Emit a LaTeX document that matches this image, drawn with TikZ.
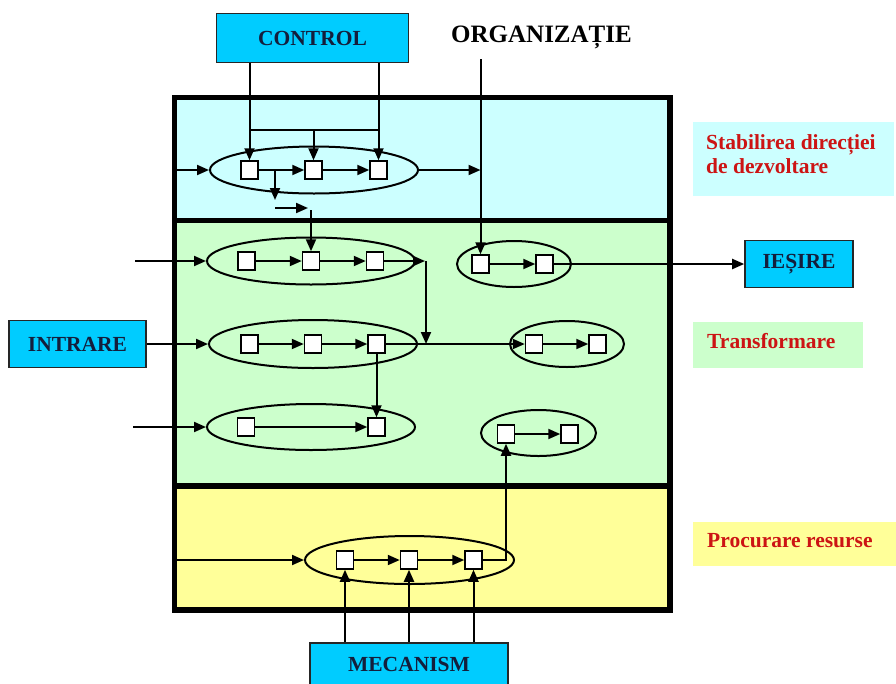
\documentclass[tikz,border=0pt]{standalone}
\usepackage{fontspec}
\setmainfont{Liberation Serif}
\usetikzlibrary{arrows.meta,shapes.geometric}

\definecolor{bandcyan}{RGB}{204,255,255}
\definecolor{bandgreen}{RGB}{204,255,204}
\definecolor{bandyellow}{RGB}{255,255,153}
\definecolor{termblue}{RGB}{0,204,255}
\definecolor{termtext}{RGB}{20,30,60}
\definecolor{labelred}{RGB}{204,20,20}

\begin{document}
\begin{tikzpicture}[x=1pt,y=-1pt,
  term/.style={draw=black!85, line width=1.6pt, fill=termblue, text=termtext,
    font=\fontsize{21.5}{24}\selectfont\bfseries, inner sep=0pt},
  act/.style={draw, fill=white, line width=1.5pt, minimum width=17pt,
    minimum height=18pt, inner sep=0pt},
  grp/.style={ellipse, draw, line width=2pt, inner sep=0pt},
  flow/.style={line width=2pt, -{Triangle[length=12pt,width=10pt]}},
  plain/.style={line width=2pt},
  phasebg/.style={inner sep=0pt, anchor=north west},
  phasetext/.style={text=labelred, font=\fontsize{21.5}{24}\selectfont\bfseries,
    align=left, anchor=west, inner sep=0pt},
  band/.style={line width=5.5pt}
]
\useasboundingbox (0,0) rectangle (896,683);

% ---- bands of the enterprise frame
\fill[bandcyan]   (174.5,97.5) rectangle (670,220.5);
\fill[bandgreen]  (174.5,220.5) rectangle (670,486);
\fill[bandyellow] (174.5,486) rectangle (670,610);
\draw[band] (174.5,97.5) rectangle (670,610);
\draw[band] (174.5,220.5) -- (670,220.5);
\draw[band] (174.5,486) -- (670,486);

% ---- phase labels on the right
\node[phasebg, fill=bandcyan, minimum width=201pt, minimum height=74pt] (stabbg) at (693,122) {};
\node[phasetext] (stab) at (706,154) {Stabilirea direcției\\de dezvoltare};
\node[phasebg, fill=bandgreen, minimum width=170pt, minimum height=46pt] (transbg) at (693,322) {};
\node[phasetext] (trans) at (707,341) {Transformare};
\node[phasebg, fill=bandyellow, minimum width=203pt, minimum height=44pt] (procbg) at (693,522) {};
\node[phasetext] (proc) at (707,541) {Procurare resurse};

% ---- terminals
\node[term, minimum width=192pt, minimum height=49pt] (ctrl) at (312.5,38) {CONTROL};
\node[term, minimum width=137pt, minimum height=47pt] (intr) at (77.5,344) {INTRARE};
\node[term, minimum width=108pt, minimum height=47pt] (iesire) at (799,264) {IEȘIRE};
\node[term, minimum width=198pt, minimum height=42pt] (mec) at (409,664) {MECANISM};
\node[font=\fontsize{25}{28}\selectfont\bfseries, inner sep=0pt] (org) at (541.5,37) {ORGANIZAȚIE};

% ---- process groups
\node[grp, minimum width=208pt, minimum height=47pt] (e1) at (314,170) {};
\node[grp, minimum width=208pt, minimum height=47pt] (e2) at (311,261) {};
\node[grp, minimum width=208pt, minimum height=48pt] (e3) at (313,344) {};
\node[grp, minimum width=208pt, minimum height=46pt] (e4) at (311,427) {};
\node[grp, minimum width=114pt, minimum height=46pt] (e5) at (514,264) {};
\node[grp, minimum width=114pt, minimum height=46pt] (e6) at (567,344) {};
\node[grp, minimum width=115pt, minimum height=46pt] (e7) at (538.5,433) {};
\node[grp, minimum width=209pt, minimum height=48pt] (e8) at (409.5,560) {};

% ---- activities
\node[act] (t1) at (249.5,170) {};
\node[act] (t2) at (313.5,170) {};
\node[act] (t3) at (378.5,170) {};
\node[act] (g1) at (246.5,261) {};
\node[act] (g2) at (311,261) {};
\node[act] (g3) at (375,261) {};
\node[act] (h1) at (249.5,344) {};
\node[act] (h2) at (313,344) {};
\node[act] (h3) at (376.5,344) {};
\node[act] (k1) at (246,427) {};
\node[act] (k2) at (376.5,427) {};
\node[act] (o1) at (480.5,264) {};
\node[act] (o2) at (544.5,264) {};
\node[act] (p1) at (534,344) {};
\node[act] (p2) at (597.5,344) {};
\node[act] (q1) at (506,434) {};
\node[act] (q2) at (569.5,434) {};
\node[act] (m1) at (345,560) {};
\node[act] (m2) at (409,560) {};
\node[act] (m3) at (473.5,560) {};

% ---- free ends and junctions
\coordinate (in1) at (174.5,170);
\coordinate (in2) at (135,261);
\coordinate (in4) at (133,427);
\coordinate (in5) at (174.5,560);
\coordinate (orgtop) at (480.5,59);
\coordinate (orgj) at (480.5,170);
\coordinate (barL) at (249.5,130);
\coordinate (barM) at (313.5,130);
\coordinate (barR) at (378.5,130);
\coordinate (brA) at (275,170);
\coordinate (brB) at (275,200);
\coordinate (brC) at (275,208);
\coordinate (brD) at (308,208);
\coordinate (brE) at (311,210);
\coordinate (j1) at (425,261);
\coordinate (j2) at (426,261);
\coordinate (j3) at (426,344);

% ---- control inputs
\draw[flow] (ctrl.south -| t1) -- (t1.north);
\draw[flow] (ctrl.south -| t3) -- (t3.north);
\draw[plain] (barL) -- (barR);
\draw[flow] (barM) -- (t2.north);

% ---- direction setting
\draw[flow] (in1) -- (e1.west);
\draw[flow] (t1.east) -- (t2.west);
\draw[flow] (t2.east) -- (t3.west);
\draw[flow] (e1.east) -- (orgj);
\draw[flow] (brA) -- (brB);
\draw[flow] (brC) -- (brD);
\draw[flow] (brE) -- (g2.north);
\draw[flow] (orgtop) -- (o1.north);

% ---- transformation
\draw[flow] (in2) -- (e2.west);
\draw[flow] (g1.east) -- (g2.west);
\draw[flow] (g2.east) -- (g3.west);
\draw[flow] (g3.east) -- (j1);
\draw[flow] (j2) -- (j3);
\draw[flow] (intr.east) -- (e3.west);
\draw[flow] (h1.east) -- (h2.west);
\draw[flow] (h2.east) -- (h3.west);
\draw[flow] (h3.east) -- (p1.west);
\draw[flow] (p1.east) -- (p2.west);
\draw[flow] (h3.south) -- (k2.north);
\draw[flow] (in4) -- (e4.west);
\draw[flow] (k1.east) -- (k2.west);
\draw[flow] (o1.east) -- (o2.west);
\draw[flow] (o2.east) -- (iesire.west);
\draw[flow] (q1.east) -- (q2.west);

% ---- resource procurement
\draw[flow] (in5) -- (e8.west);
\draw[flow] (m1.east) -- (m2.west);
\draw[flow] (m2.east) -- (m3.west);
\draw[flow] (m3.east) -| (q1.south);
\draw[flow] (mec.north -| m1) -- (m1.south);
\draw[flow] (mec.north -| m2) -- (m2.south);
\draw[flow] (mec.north -| m3) -- (m3.south);
\end{tikzpicture}
\end{document}
